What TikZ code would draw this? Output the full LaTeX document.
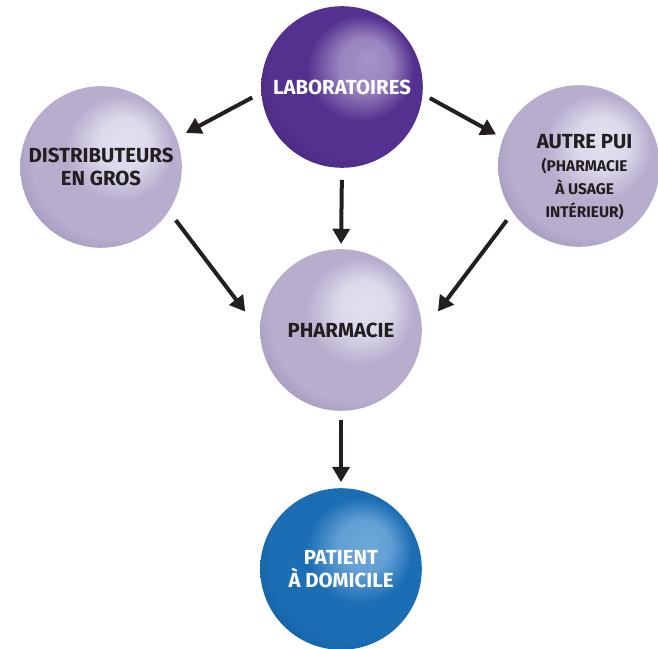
\documentclass[tikz,border=0pt]{standalone}
\usepackage{fontspec}
\setmainfont{Fira Sans}
\usetikzlibrary{arrows.meta}

\definecolor{arrowdark}{HTML}{231F20}
\definecolor{sphhi}{HTML}{E6E2F0}
\definecolor{sphmid}{HTML}{B8AFCF}
\definecolor{sphrim}{HTML}{8E84AD}
\pgfdeclareradialshading[sphhi,sphmid,sphrim]{sphere}{\pgfpoint{8.5bp}{8.5bp}}{%
  color(0bp)=(sphhi); color(8bp)=(sphhi!85!sphmid); color(13bp)=(sphhi!35!sphmid);
  color(16.5bp)=(sphmid); color(26bp)=(sphmid); color(37bp)=(sphrim); color(50bp)=(sphrim)}

\tikzset{
  sphere colors/.code n args={3}{%
    \definecolor{sphhi}{HTML}{#1}\definecolor{sphmid}{HTML}{#2}\definecolor{sphrim}{HTML}{#3}},
  ball/.style={circle, minimum size=4.04cm, inner sep=0pt, outer sep=0pt, shading=sphere,
    align=center, font=\bfseries\fontsize{14.5pt}{16.5pt}\selectfont},
  purpleball/.style={ball, text=white, sphere colors={A593C8}{55318F}{3D2172}},
  lilacball/.style={ball, text=arrowdark, sphere colors={E4E0EF}{B7AECE}{8D83AC}},
  blueball/.style={ball, text=white, sphere colors={6FA8DA}{1B6DB4}{0C5697}},
  arrow/.style={-{Triangle[length=0.38cm,width=0.42cm]}, line width=0.1cm, draw=arrowdark}
}

\begin{document}
\begin{tikzpicture}
  \useasboundingbox (0,0) rectangle (16.45,16.225);
  \node[purpleball] (lab) at (8.55,14.05) {LABORATOIRES};
  \node[lilacball] (distr) at (2.525,12.05) {DISTRIBUTEURS\\EN GROS};
  \node[lilacball] (pui) at (14.475,12.075) {};
  \node[align=center, text=arrowdark, font=\bfseries\fontsize{14.5pt}{16.5pt}\selectfont] (puitext)
    at ([xshift=0.14cm,yshift=-0.28cm]pui.center)
    {AUTRE PUI\\ \fontsize{11pt}{12pt}\selectfont (PHARMACIE\\ \fontsize{11pt}{12pt}\selectfont À USAGE\\ \fontsize{11pt}{12pt}\selectfont INTÉRIEUR)};
  \node[lilacball] (pharm) at (8.525,7.975) {PHARMACIE};
  \node[blueball] (patient) at (8.525,2.0) {PATIENT\\À DOMICILE};

  \draw[arrow, shorten <=0.26cm, shorten >=0.27cm] (lab.184) -- (distr.21);
  \draw[arrow, shorten <=0.21cm, shorten >=0.2cm] (lab.355) -- (pui.160);
  \draw[arrow, shorten <=0.3cm, shorten >=0.13cm] (lab.south) -- (pharm.north);
  \draw[arrow, shorten <=0.29cm, shorten >=0.62cm] (distr.327) -- (pharm.181);
  \draw[arrow, shorten <=0.25cm, shorten >=0.67cm] (pui.215) -- (pharm.358);
  \draw[arrow, shorten <=0.23cm, shorten >=0.15cm] (pharm.south) -- (patient.north);
\end{tikzpicture}
\end{document}
